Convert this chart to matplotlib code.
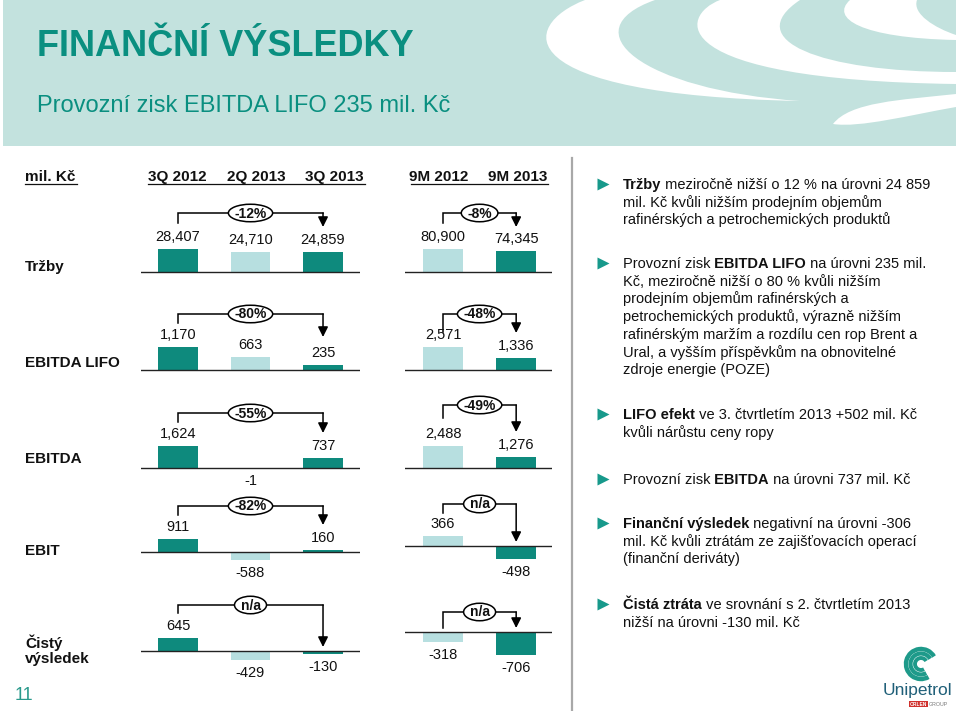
import matplotlib
matplotlib.use("Agg")
import matplotlib.pyplot as plt
from matplotlib import transforms
from matplotlib.patches import Rectangle, PathPatch, Ellipse, Arc
from matplotlib.path import Path

plt.rcParams['font.family'] = ['Liberation Sans', 'DejaVu Sans']

W, H = 960, 711

# --- data (mil. Kč) ---
quarters = ["3Q 2012", "2Q 2013", "3Q 2013"]
periods_9m = ["9M 2012", "9M 2013"]
metrics = ["Tržby", "EBITDA LIFO", "EBITDA", "EBIT", "Čistý\nvýsledek"]

q_sales = [28407, 24710, 24859]
q_ebitda_lifo = [1170, 663, 235]
q_ebitda = [1624, -1, 737]
q_ebit = [911, -588, 160]
q_net = [645, -429, -130]

m_sales = [80900, 74345]
m_ebitda_lifo = [2571, 1336]
m_ebitda = [2488, 1276]
m_ebit = [366, -498]
m_net = [-318, -706]

q_change = ["-12%", "-80%", "-55%", "-82%", "n/a"]
m_change = ["-8%", "-48%", "-49%", "n/a", "n/a"]

# --- styles ---
TEAL = "#0a8f80"
DARK = "#0e8a7d"
LIGHT = "#b7dfe0"
BAND = "#c3e2de"
TXT = "#111111"
BULLET = "#17998b"

# layout in pixels (y from top)
q_base = [272, 370, 468, 552, 651]
m_base = [272, 370, 468, 546, 632]
q_px = [23, 23, 22, 13, 13]
m_px = [23, 23, 22, 13, 23]
q_brk = [(213, 223, 227), (314, 323, 337), (413, 422, 433), (506, 515, 525), (605, 613, 647)]
m_brk = [(213, 223, 227), (314, 332, 333), (405, 418, 432), (504, 513, 542), (612, 628, 628)]
label_y = [267, 363, 459, 551, 650]

fig = plt.figure(figsize=(W / 100, H / 100), dpi=100)
renderer = fig.canvas.get_renderer()
PX = transforms.Affine2D().scale(1 / W, -1 / H).translate(0, 1) + fig.transFigure

bg = fig.add_axes([0, 0, 1, 1])
bg.set_xlim(0, W)
bg.set_ylim(H, 0)
bg.axis('off')

# header band with white swooshes
bg.add_patch(Rectangle((3, 0), 953, 146, fc=BAND, ec='none'))
M, C, L, X = Path.MOVETO, Path.CURVE4, Path.LINETO, Path.CLOSEPOLY
swooshes = [
    ([(585, 0), (520, 25), (505, 95), (800, 101), (640, 90), (570, 30), (655, 0), (0, 0)],
     [M, C, C, C, C, C, C, X]),
    ([(720, 0), (680, 15), (660, 80), (956, 84), (956, 72), (820, 72), (740, 40), (800, 0), (0, 0)],
     [M, C, C, C, L, C, C, C, X]),
    ([(850, 0), (830, 18), (860, 38), (956, 40), (956, 35), (935, 28), (912, 14), (917, 0), (0, 0)],
     [M, C, C, C, L, C, C, C, X]),
    ([(833, 124), (850, 102), (900, 100), (956, 94), (956, 107), (910, 115), (860, 128), (833, 124), (0, 0)],
     [M, C, C, C, L, C, C, C, X]),
]
for verts, codes in swooshes:
    bg.add_patch(PathPatch(Path(verts, codes), fc='white', ec='none'))

bg.text(37, 56, "FINANČNÍ VÝSLEDKY", fontsize=26, fontweight='bold', color=TEAL, va='baseline')
bg.text(37, 112, "Provozní zisk EBITDA LIFO 235 mil. Kč", fontsize=17, color=TEAL, va='baseline')

# separator
bg.plot([572, 572], [158, H], color="#a8a8a8", lw=1.6)

# column headers
bg.text(25, 181, "mil. Kč", fontsize=11, fontweight='bold', color=TXT, va='baseline')
bg.plot([25, 77], [184, 184], color=TXT, lw=0.9)
for x, q in zip([177.5, 256, 334], quarters):
    bg.text(x, 181, q, fontsize=11, fontweight='bold', color=TXT, ha='center', va='baseline')
bg.plot([148, 365], [184, 184], color=TXT, lw=0.9)
for x, m in zip([439, 518], periods_9m):
    bg.text(x, 181, m, fontsize=11, fontweight='bold', color=TXT, ha='center', va='baseline')
bg.plot([411, 548], [184, 184], color=TXT, lw=0.9)

for y, name in zip(label_y, metrics):
    bg.text(25, y, name, fontsize=11, fontweight='bold', color=TXT, va='center', linespacing=1.1)


def group(x0, x1, pad_l, pad_r, base, vals, cols, bar_px, brk, change, bar_w):
    ax = fig.add_axes([x0 / W, 1 - (base + 32) / H, (x1 - x0) / W, 64 / H])
    ax.axis('off')
    n = len(vals)
    upp = max(abs(v) for v in vals) / bar_px
    ax.set_xlim(-pad_l, n - 1 + pad_r)
    ax.set_ylim(-32 * upp, 32 * upp)
    xs = list(range(n))
    ax.bar(xs, vals, width=bar_w, color=cols, zorder=2)
    ax.axhline(0, color="#222222", lw=1.0, zorder=3)
    for x, v in zip(xs, vals):
        ax.annotate(f"{v:,}", (x, v), xytext=(0, 12 if v >= 0 else -13),
                    textcoords='offset pixels', ha='center', va='center',
                    fontsize=10.5, color=TXT, annotation_clip=False)
    # change bracket
    top, left_end, tip = brk
    tr = transforms.blended_transform_factory(ax.transData, PX)
    ax.plot([0, 0, n - 1], [left_end, top, top], transform=tr, color='k', lw=1.1,
            clip_on=False, solid_joinstyle='miter')
    ax.annotate('', xy=(n - 1, tip), xytext=(n - 1, top), xycoords=tr, textcoords=tr,
                arrowprops=dict(arrowstyle='-|>,head_length=0.6,head_width=0.3', color='k',
                                lw=1.1, shrinkA=0, shrinkB=0),
                annotation_clip=False)
    mid = (n - 1) / 2
    t = ax.text(mid, top + 0.5, change, transform=tr, ha='center', va='center', fontsize=10,
                fontweight='bold', color=TXT, zorder=6, clip_on=False)
    w_px = t.get_window_extent(renderer).width + 12
    ppu = (x1 - x0) / (n - 1 + pad_l + pad_r)
    ax.add_patch(Ellipse((mid, top), w_px / ppu, 17.5, transform=tr, fc='white', ec='k',
                         lw=1.1, zorder=5, clip_on=False))


q_vals = [q_sales, q_ebitda_lifo, q_ebitda, q_ebit, q_net]
m_vals = [m_sales, m_ebitda_lifo, m_ebitda, m_ebit, m_net]
for i in range(len(metrics)):
    group(141, 360, 0.51, 0.51, q_base[i], q_vals[i], [DARK, LIGHT, DARK], q_px[i],
          q_brk[i], q_change[i], 0.54)
    group(405, 552, 0.52, 0.49, m_base[i], m_vals[i], [LIGHT, DARK], m_px[i],
          m_brk[i], m_change[i], 0.55)

# right column commentary
bullets = [
    [184, [[("Tržby", True), (" meziročně nižší o 12 % na úrovni 24 859", False)],
           [("mil. Kč kvůli nižším prodejním objemům", False)],
           [("rafinérských a petrochemických produktů", False)]]],
    [263, [[("Provozní zisk", False), (" EBITDA LIFO", True), (" na úrovni 235 mil.", False)],
           [("Kč, meziročně nižší o 80 % kvůli nižším", False)],
           [("prodejním objemům rafinérských a", False)],
           [("petrochemických produktů, výrazně nižším", False)],
           [("rafinérským maržím a rozdílu cen rop Brent a", False)],
           [("Ural, a vyšším příspěvkům na obnovitelné", False)],
           [("zdroje energie (POZE)", False)]]],
    [414, [[("LIFO efekt", True), (" ve 3. čtvrtletím 2013 +502 mil. Kč", False)],
           [("kvůli nárůstu ceny ropy", False)]]],
    [479, [[("Provozní zisk", False), (" EBITDA", True), (" na úrovni 737 mil. Kč", False)]]],
    [523, [[("Finanční výsledek", True), (" negativní na úrovni -306", False)],
           [("mil. Kč kvůli ztrátám ze zajišťovacích operací", False)],
           [("(finanční deriváty)", False)]]],
    [604, [[("Čistá ztráta", True), (" ve srovnání s 2. čtvrtletím 2013", False)],
           [("nižší na úrovni -130 mil. Kč", False)]]],
]
for y0, lines in bullets:
    bg.plot(603, y0, marker='>', ms=9, color=BULLET, mec='none')
    for k, parts in enumerate(lines):
        x = 623
        y = y0 + k * 17.7 + 5
        for txt, bold in parts:
            t = bg.text(x, y, txt, fontsize=10.5, fontweight='bold' if bold else 'normal',
                        color=TXT, va='baseline')
            x += t.get_window_extent(renderer).width

# page number
bg.text(15, 700, "11", fontsize=13, color="#2a9a8c", va='baseline')

# logo
for d, lw in [(30, 3.2), (21, 3.0), (12, 2.8)]:
    bg.add_patch(Arc((921, 664), d, d, theta1=60, theta2=330, color="#1e9a8a", lw=lw))
bg.text(917, 691, "Unipetrol", fontsize=12.5, color="#1f5f78", ha='center', va='center')
bg.add_patch(Rectangle((909, 701), 19, 6, fc="#d0312d", ec='none'))
bg.text(918.5, 704, "ORLEN", fontsize=3.5, color='white', ha='center', va='center', fontweight='bold')
bg.text(929, 704, "GROUP", fontsize=3.8, color="#777777", ha='left', va='center')

fig.savefig("out.png", dpi=100)
